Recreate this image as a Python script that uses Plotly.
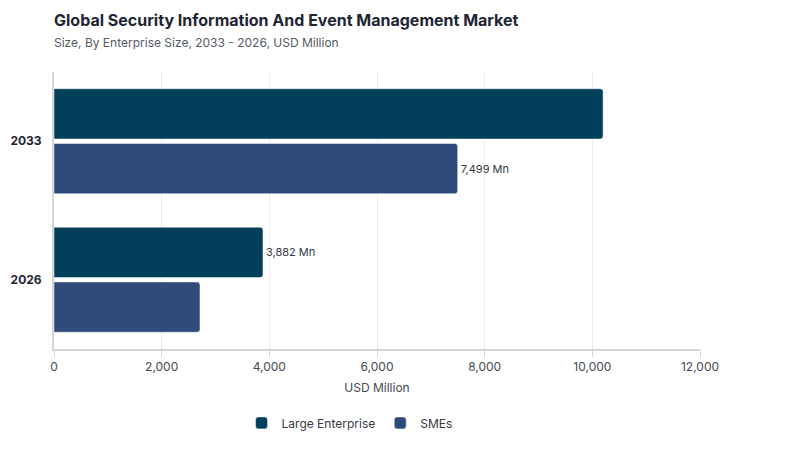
import plotly.graph_objects as go

years = ["2033", "2026"]
large_enterprise = [10200, 3882]
smes = [7499, 2712]
large_labels = ["", "3,882 Mn"]
smes_labels = ["7,499 Mn", ""]

font_family = "Inter, Lato, sans-serif"

fig = go.Figure()
fig.add_trace(
    go.Bar(
        y=years,
        x=large_enterprise,
        name="Large Enterprise",
        orientation="h",
        marker=dict(color="#023f5a"),
        text=large_labels,
        textposition="outside",
        textfont=dict(size=11, color="#333a44"),
        cliponaxis=False,
    )
)
fig.add_trace(
    go.Bar(
        y=years,
        x=smes,
        name="SMEs",
        orientation="h",
        marker=dict(color="#2f4b7a"),
        text=smes_labels,
        textposition="outside",
        textfont=dict(size=11, color="#333a44"),
        cliponaxis=False,
    )
)

fig.update_layout(
    width=800,
    height=450,
    template="plotly_white",
    font=dict(family=font_family, color="#333a44"),
    title=dict(
        text="<b>Global Security Information And Event Management Market</b>"
        "<br><span style='font-size:12px;color:#555b63'>Size, By Enterprise Size, 2033 - 2026, USD Million</span>",
        x=0.0575,
        xanchor="left",
        y=0.96,
        yanchor="top",
        font=dict(size=16, color="#1e2533"),
    ),
    barmode="group",
    bargap=0.21,
    bargroupgap=0.08,
    barcornerradius=3,
    margin=dict(l=46, r=108, t=64, b=109, autoexpand=False),
    plot_bgcolor="white",
    paper_bgcolor="white",
    legend=dict(
        orientation="h",
        x=0.4575,
        xanchor="center",
        yref="container",
        y=0.078,
        yanchor="middle",
        itemwidth=30,
        font=dict(size=12, color="#333a44"),
    ),
    showlegend=True,
)
fig.update_xaxes(
    range=[0, 12000],
    dtick=2000,
    tickformat=",",
    showgrid=True,
    gridcolor="#ececec",
    zeroline=False,
    showline=True,
    linecolor="#d6d6d6",
    linewidth=2,
    ticks="outside",
    ticklen=6,
    tickcolor="#d6d6d6",
    tickfont=dict(size=12, color="#444a52"),
    automargin=False,
    title=dict(text="USD Million", font=dict(size=12, color="#444a52"), standoff=10),
)
fig.update_yaxes(
    autorange="reversed",
    showgrid=False,
    showline=True,
    linecolor="#d6d6d6",
    linewidth=2,
    automargin=False,
    ticklabelstandoff=8,
    tickfont=dict(size=12, color="#1e2533", weight="bold"),
)

fig.write_html("out.html")
